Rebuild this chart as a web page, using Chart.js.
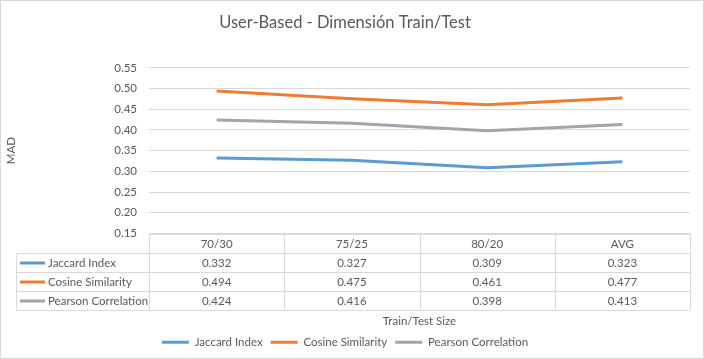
<!DOCTYPE html>
<html>
<head>
<meta charset="utf-8">
<script src="https://cdn.jsdelivr.net/npm/chart.js@4"></script>
<style>
  html, body { margin: 0; padding: 0; background: #fff; }
  canvas { display: block; }
</style>
</head>
<body>
<canvas id="chart" width="704" height="359"></canvas>
<script>
// data
const categories = ['70/30', '75/25', '80/20', 'AVG'];
const jaccard = [0.332, 0.327, 0.309, 0.323];
const cosine = [0.494, 0.475, 0.461, 0.477];
const pearson = [0.424, 0.416, 0.398, 0.413];
const seriesNames = ['Jaccard Index', 'Cosine Similarity', 'Pearson Correlation'];
const yMin = 0.15, yMax = 0.55, yStep = 0.05;

const FONT = "Lato, 'Open Sans', sans-serif";
const FS = 11.5;
const TEXT = '#595959';
const GRID = '#D9D9D9';
const colors = ['#5B9BD5', '#ED7D31', '#A5A5A5'];

// white background + outer border
const frame = {
  id: 'frame',
  beforeDraw(chart) {
    const ctx = chart.ctx;
    ctx.save();
    ctx.fillStyle = '#fff';
    ctx.fillRect(0, 0, chart.width, chart.height);
    ctx.strokeStyle = GRID;
    ctx.lineWidth = 1;
    ctx.strokeRect(0.5, 0.5, chart.width - 1, chart.height - 1);
    ctx.restore();
  }
};

// Excel style data table under the plot
const dataTable = {
  id: 'dataTable',
  afterDraw(chart) {
    const {ctx, chartArea} = chart;
    const x = chart.scales.x;
    const rowH = 19;
    const top = Math.round(chartArea.bottom);
    const n = categories.length;
    const colW = (x.right - x.left) / n;
    const tableLeft = 16;
    const rows = chart.data.datasets.length;
    const bottom = top + rowH * (rows + 1);
    ctx.save();
    ctx.strokeStyle = GRID;
    ctx.lineWidth = 1;
    ctx.beginPath();
    ctx.moveTo(x.left, top + 0.5); ctx.lineTo(x.right, top + 0.5);
    for (let k = 1; k <= rows + 1; k++) {
      const y = top + rowH * k + 0.5;
      ctx.moveTo(tableLeft, y); ctx.lineTo(x.right, y);
    }
    ctx.moveTo(tableLeft + 0.5, top + rowH); ctx.lineTo(tableLeft + 0.5, bottom);
    for (let i = 0; i <= n; i++) {
      const xx = Math.round(x.left + i * colW) + 0.5;
      ctx.moveTo(xx, top); ctx.lineTo(xx, bottom);
    }
    ctx.stroke();

    ctx.font = FS + 'px ' + FONT;
    ctx.fillStyle = TEXT;
    ctx.textBaseline = 'middle';
    ctx.textAlign = 'center';
    categories.forEach((c, i) => {
      ctx.fillText(c, x.getPixelForValue(i), top + rowH / 2 + 1);
    });
    chart.data.datasets.forEach((ds, r) => {
      const cy = top + rowH * (r + 1) + rowH / 2 + 1;
      ctx.textAlign = 'center';
      ctx.fillStyle = TEXT;
      ds.data.forEach((v, i) => ctx.fillText(v.toFixed(3), x.getPixelForValue(i), cy));
      ctx.strokeStyle = ds.borderColor;
      ctx.lineWidth = 3;
      ctx.beginPath();
      ctx.moveTo(20, cy - 0.5); ctx.lineTo(45, cy - 0.5);
      ctx.stroke();
      ctx.textAlign = 'left';
      ctx.fillText(ds.label, 48, cy);
    });
    ctx.restore();
  }
};

const makeSet = (label, data, color) => ({
  label, data,
  borderColor: color,
  backgroundColor: color,
  borderWidth: 3,
  pointRadius: 0,
  tension: 0,
  fill: false
});

new Chart(document.getElementById('chart'), {
  type: 'line',
  data: {
    labels: categories,
    datasets: [
      makeSet(seriesNames[0], jaccard, colors[0]),
      makeSet(seriesNames[1], cosine, colors[1]),
      makeSet(seriesNames[2], pearson, colors[2])
    ]
  },
  options: {
    responsive: false,
    animation: false,
    devicePixelRatio: 1,
    layout: { padding: { top: 0, right: 14, bottom: 1, left: 0 } },
    plugins: {
      title: {
        display: true,
        text: 'User-Based - Dimensión Train/Test',
        color: TEXT,
        font: { family: FONT, size: 16.5, weight: 'normal', lineHeight: 1.2 },
        padding: { top: 13, bottom: 35 }
      },
      legend: {
        position: 'bottom',
        labels: {
          color: TEXT,
          font: { family: FONT, size: FS },
          usePointStyle: true,
          pointStyle: 'line',
          pointStyleWidth: 27,
          padding: 8
        }
      },
      tooltip: { enabled: false }
    },
    scales: {
      x: {
        offset: true,
        grid: { display: false },
        border: { display: false },
        ticks: { display: false },
        title: {
          display: true,
          text: 'Train/Test Size',
          color: TEXT,
          font: { family: FONT, size: FS },
          padding: { top: 0, bottom: 0 }
        },
        afterFit(s) { s.height = 95; }
      },
      y: {
        min: yMin,
        max: yMax,
        grid: { color: GRID, drawTicks: false },
        border: { display: false },
        ticks: {
          stepSize: yStep,
          padding: 12,
          color: TEXT,
          font: { family: FONT, size: FS },
          callback: v => v.toFixed(2)
        },
        title: {
          display: true,
          text: 'MAD',
          color: TEXT,
          font: { family: FONT, size: FS },
          padding: { top: 4, bottom: 0 }
        },
        afterFit(s) { s.width = 149; }
      }
    }
  },
  plugins: [frame, dataTable]
});
</script>
</body>
</html>
